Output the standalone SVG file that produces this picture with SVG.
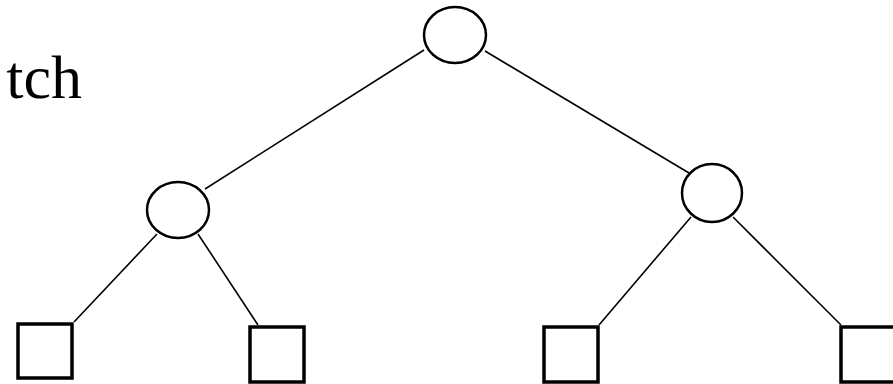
<svg xmlns="http://www.w3.org/2000/svg" width="893" height="384" viewBox="0 0 893 384">
<style>
.c{fill:#fff;stroke:#000;stroke-width:2.5}
.s{fill:#fff;stroke:#000;stroke-width:3.5}
.e{stroke:#000;stroke-width:1.6;fill:none}
.t{font-family:"Liberation Serif",serif;font-size:62px;fill:#000}
</style>
<rect width="893" height="384" fill="#fff"/>
<text class="t" x="82" y="98" text-anchor="end">tch</text>
<g id="connectors">
<line class="e" x1="424" y1="50" x2="205" y2="189"/>
<line class="e" x1="485" y1="51" x2="689" y2="173"/>
<line class="e" x1="157" y1="234" x2="74" y2="322"/>
<line class="e" x1="198" y1="234" x2="258" y2="325"/>
<line class="e" x1="691" y1="217" x2="599" y2="325"/>
<line class="e" x1="733" y1="217" x2="841" y2="325"/>
</g>
<g id="root"><ellipse class="c" cx="455" cy="35" rx="31" ry="28"/></g>
<g id="left"><ellipse class="c" cx="178" cy="210" rx="31" ry="28"/></g>
<g id="right"><ellipse class="c" cx="712" cy="193" rx="30" ry="29"/></g>
<g id="leaf1"><rect class="s" x="18" y="324" width="54" height="54"/></g>
<g id="leaf2"><rect class="s" x="250" y="327" width="54" height="55"/></g>
<g id="leaf3"><rect class="s" x="544" y="327" width="54" height="55"/></g>
<g id="leaf4"><rect class="s" x="841" y="327" width="54" height="55"/></g>
</svg>
